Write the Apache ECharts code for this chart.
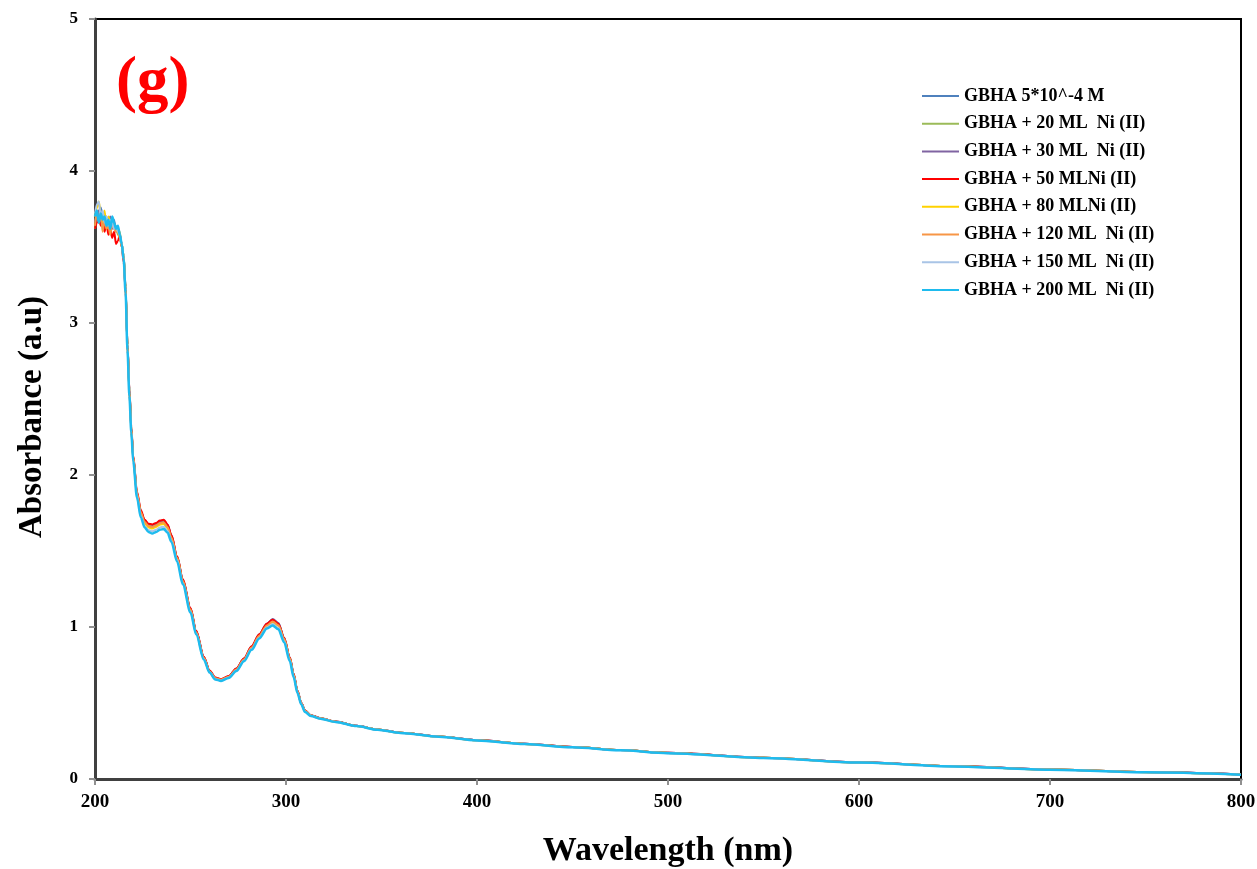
<!DOCTYPE html>
<html>
<head>
<meta charset="utf-8">
<title>GBHA + Ni (II) absorbance</title>
<script src="https://cdn.jsdelivr.net/npm/echarts@6/dist/echarts.min.js"></script>
<style>
  html, body { margin: 0; padding: 0; background: #fff; }
  #chart { width: 1257px; height: 869px; }
</style>
</head>
<body>
<div id="chart"></div>
<script>
// wavelength grid (nm)
const wavelengths = [200,201,202,203,204,205,206,207,208,209,210,211,212,213,214,
  215,216,217,218,219,220,222,224,226,228,230,232,234,236,238,240,
  243,246,250,253,257,260,263,266,270,274,278,282,286,290,
  293,296,299,302,304,306,308,310,313,318,326,337,348,360,
  380,400,425,450,475,500,550,600,650,700,750,800];

const seriesNames = [
  'GBHA 5*10^-4 M',
  'GBHA + 20 ML  Ni (II)',
  'GBHA + 30 ML  Ni (II)',
  'GBHA + 50 MLNi (II)',
  'GBHA + 80 MLNi (II)',
  'GBHA + 120 ML  Ni (II)',
  'GBHA + 150 ML  Ni (II)',
  'GBHA + 200 ML  Ni (II)'
];

const seriesColors = ['#4F81BD','#9BBB59','#8064A2','#FF0000','#FFD200','#F79646','#A9C4E6','#1EBBEE'];

// absorbance (a.u)
const gbha = [3.66,3.72,3.68,3.76,3.70,3.64,3.70,3.62,3.68,3.64,3.68,3.60,3.62,3.58,3.52,
  3.44,3.24,2.86,2.56,2.31,2.12,1.88,1.76,1.70,1.675,1.67,1.68,1.695,1.70,1.67,1.60,
  1.46,1.31,1.12,0.97,0.80,0.71,0.665,0.655,0.675,0.725,0.79,0.87,0.95,1.02,
  1.05,1.025,0.93,0.80,0.69,0.58,0.50,0.45,0.42,0.40,0.378,0.35,0.326,0.305,
  0.28,0.256,0.232,0.211,0.191,0.172,0.14,0.11,0.085,0.063,0.046,0.03];

const ni20 = [3.62,3.70,3.74,3.68,3.72,3.66,3.62,3.68,3.64,3.66,3.62,3.64,3.58,3.60,3.50,
  3.43,3.23,2.85,2.55,2.30,2.11,1.87,1.75,1.69,1.665,1.66,1.67,1.685,1.69,1.66,1.59,
  1.455,1.305,1.115,0.965,0.795,0.707,0.662,0.652,0.672,0.72,0.786,0.865,0.945,1.012,
  1.04,1.015,0.925,0.795,0.686,0.577,0.497,0.447,0.418,0.399,0.377,0.349,0.325,0.304,
  0.279,0.255,0.231,0.210,0.190,0.171,0.139,0.109,0.084,0.062,0.045,0.029];

const ni30 = [3.68,3.66,3.74,3.70,3.66,3.72,3.64,3.66,3.70,3.62,3.66,3.62,3.60,3.56,3.52,
  3.44,3.24,2.86,2.56,2.31,2.12,1.88,1.76,1.70,1.676,1.671,1.681,1.696,1.702,1.672,1.602,
  1.462,1.312,1.122,0.972,0.802,0.711,0.666,0.656,0.676,0.726,0.792,0.871,0.951,1.022,
  1.052,1.026,0.931,0.80,0.69,0.58,0.50,0.45,0.42,0.40,0.378,0.35,0.326,0.305,
  0.28,0.256,0.232,0.211,0.191,0.172,0.14,0.11,0.085,0.063,0.046,0.03];

const ni50 = [3.62,3.66,3.70,3.64,3.68,3.60,3.66,3.58,3.62,3.56,3.60,3.52,3.54,3.58,3.50,
  3.40,3.22,2.86,2.57,2.32,2.13,1.89,1.77,1.705,1.68,1.675,1.685,1.70,1.705,1.675,1.605,
  1.465,1.315,1.125,0.975,0.805,0.713,0.667,0.657,0.677,0.727,0.793,0.873,0.953,1.022,
  1.048,1.022,0.93,0.80,0.69,0.58,0.50,0.45,0.42,0.40,0.378,0.35,0.326,0.305,
  0.28,0.256,0.232,0.211,0.191,0.172,0.14,0.11,0.085,0.063,0.046,0.03];

const ni80 = [3.70,3.76,3.80,3.72,3.66,3.74,3.62,3.70,3.66,3.68,3.64,3.62,3.60,3.56,3.52,
  3.44,3.23,2.85,2.55,2.30,2.11,1.87,1.745,1.68,1.655,1.648,1.658,1.673,1.678,1.65,1.58,
  1.45,1.30,1.11,0.96,0.792,0.705,0.66,0.65,0.67,0.717,0.783,0.86,0.938,1.005,
  1.032,1.008,0.918,0.79,0.682,0.574,0.495,0.445,0.417,0.398,0.376,0.349,0.325,0.304,
  0.279,0.255,0.231,0.21,0.19,0.171,0.139,0.109,0.084,0.062,0.045,0.029];

const ni120 = [3.64,3.74,3.66,3.72,3.60,3.68,3.62,3.64,3.58,3.66,3.62,3.60,3.62,3.56,3.50,
  3.43,3.22,2.86,2.56,2.31,2.12,1.88,1.755,1.69,1.665,1.658,1.668,1.683,1.688,1.658,1.588,
  1.455,1.305,1.115,0.965,0.796,0.708,0.663,0.653,0.673,0.72,0.786,0.865,0.943,1.01,
  1.036,1.012,0.922,0.794,0.685,0.576,0.497,0.447,0.418,0.399,0.377,0.349,0.325,0.304,
  0.279,0.255,0.231,0.21,0.19,0.171,0.139,0.109,0.084,0.062,0.045,0.029];

const ni150 = [3.72,3.78,3.80,3.70,3.74,3.66,3.70,3.64,3.68,3.66,3.62,3.64,3.60,3.58,3.52,
  3.42,3.21,2.83,2.53,2.29,2.10,1.86,1.73,1.665,1.638,1.63,1.64,1.655,1.66,1.632,1.568,
  1.44,1.29,1.10,0.955,0.788,0.702,0.657,0.647,0.667,0.713,0.778,0.855,0.93,0.997,
  1.02,0.995,0.908,0.782,0.676,0.57,0.493,0.443,0.416,0.397,0.375,0.348,0.324,0.303,
  0.278,0.254,0.23,0.209,0.189,0.17,0.138,0.108,0.083,0.061,0.044,0.028];

const ni200 = [3.70,3.74,3.66,3.72,3.68,3.70,3.64,3.68,3.62,3.70,3.66,3.62,3.64,3.58,3.52,
  3.42,3.20,2.82,2.52,2.28,2.09,1.85,1.72,1.655,1.625,1.615,1.625,1.64,1.645,1.62,1.56,
  1.43,1.28,1.095,0.95,0.785,0.70,0.655,0.645,0.665,0.71,0.775,0.85,0.925,0.99,
  1.01,0.985,0.90,0.775,0.67,0.565,0.49,0.44,0.415,0.397,0.375,0.348,0.324,0.303,
  0.278,0.254,0.23,0.209,0.189,0.17,0.138,0.108,0.083,0.061,0.044,0.028];

const absorbance = [gbha, ni20, ni30, ni50, ni80, ni120, ni150, ni200];

const xTicks = [200, 800, 100];   // min, max, step
const yTicks = [0, 5, 1];

const serif = 'Liberation Serif, "Times New Roman", serif';

const chart = echarts.init(document.getElementById('chart'));

const option = {
  animation: false,
  backgroundColor: '#fff',
  grid: {
    left: 95, right: 16, top: 19, bottom: 90,
    outerBoundsMode: 'none',
    containLabel: false,
    show: true, borderColor: '#000', borderWidth: 2
  },
  legend: {
    orient: 'vertical',
    left: 917, top: 82,
    icon: 'rect',
    itemWidth: 37, itemHeight: 2, itemGap: 9.7,
    data: seriesNames,
    textStyle: { fontFamily: serif, fontWeight: 'bold', fontSize: 18, lineHeight: 18, color: '#000' }
  },
  xAxis: {
    type: 'value',
    min: xTicks[0], max: xTicks[1], interval: xTicks[2],
    name: 'Wavelength (nm)',
    nameLocation: 'middle', nameGap: 55,
    nameTextStyle: { fontFamily: serif, fontWeight: 'bold', fontSize: 34, color: '#000' },
    axisLine: { lineStyle: { color: '#404040', width: 3 } },
    axisTick: { show: true, length: 6, lineStyle: { color: '#909090', width: 2 } },
    axisLabel: { margin: 14, fontFamily: serif, fontWeight: 'bold', fontSize: 19, color: '#000' },
    splitLine: { show: false }
  },
  yAxis: {
    type: 'value',
    min: yTicks[0], max: yTicks[1], interval: yTicks[2],
    axisLine: { show: true, lineStyle: { color: '#404040', width: 3 } },
    axisTick: { show: true, length: 6, lineStyle: { color: '#909090', width: 2 } },
    axisLabel: { margin: 17, fontFamily: serif, fontWeight: 'bold', fontSize: 17, color: '#000' },
    splitLine: { show: false }
  },
  graphic: [
    {
      type: 'text', x: 32, y: 417, rotation: Math.PI / 2,
      style: {
        text: 'Absorbance (a.u)', fill: '#000',
        fontFamily: serif, fontWeight: 'bold', fontSize: 33,
        align: 'center', verticalAlign: 'middle'
      }
    },
    {
      type: 'text', left: 116, top: 52,
      style: {
        text: '(g)', fill: '#FF0000',
        fontFamily: serif, fontWeight: 'bold', fontSize: 63
      }
    }
  ],
  series: seriesNames.map((name, k) => ({
    name: name,
    type: 'line',
    symbol: 'none',
    smooth: 0.3,
    smoothMonotone: 'x',
    color: seriesColors[k],
    lineStyle: { width: k === 7 ? 2.5 : 2, color: seriesColors[k] },
    data: wavelengths.map((w, i) => [w, absorbance[k][i]])
  }))
};

chart.setOption(option);
</script>
</body>
</html>
